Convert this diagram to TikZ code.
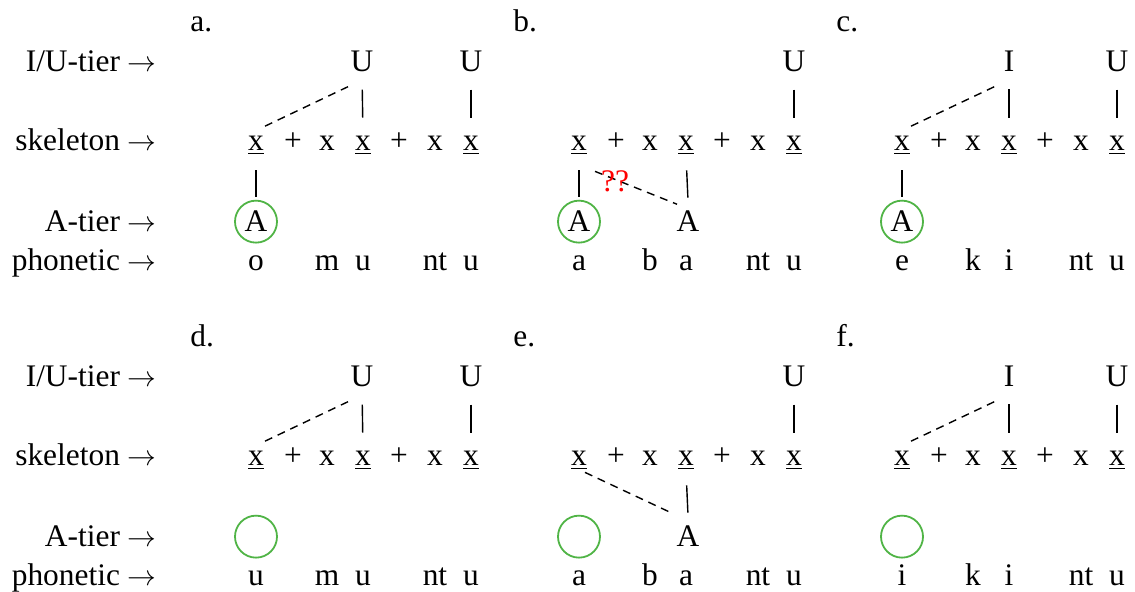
\documentclass[tikz,border=0pt]{standalone}
\usepackage{fontspec}
\setmainfont{Liberation Serif}
\definecolor{ringgreen}{RGB}{80,180,70}
\tikzset{
  seg/.style={inner sep=0pt,anchor=base},
  tier/.style={inner sep=0pt,anchor=base east},
  tag/.style={inner sep=0pt,anchor=base west},
  atom/.style={circle,inner sep=0pt,minimum size=21pt,anchor=base},
  ring/.style={atom,draw=ringgreen,line width=0.9pt},
  link/.style={line width=0.7pt,shorten <=8.5pt,shorten >=9.3pt},
  drop/.style={line width=0.7pt,shorten <=7.5pt,shorten >=1.3pt},
  spread/.style={line width=0.7pt,dash pattern=on 4pt off 3pt},
  qq/.style={inner sep=0pt,text=red}
}
% skeleton row of one panel
\newcommand\skel[1]{%
  \node[seg] (#1x1) at (256,151) {\underline{x}};
  \node[seg] (#1p1) at (293,151) {+};
  \node[seg] (#1x2) at (327,151) {x};
  \node[seg] (#1x4) at (363,151) {\underline{x}};
  \node[seg] (#1p2) at (399,151) {+};
  \node[seg] (#1x5) at (435,151) {x};
  \node[seg] (#1x7) at (471,151) {\underline{x}};
}
% phonetic row of one panel
\newcommand\phon[6]{%
  \node[seg] (#1s1) at (256,271) {#2};
  \node[seg] (#1s2) at (327,271) {#3};
  \node[seg] (#1s3) at (363,271) {#4};
  \node[seg] (#1s4) at (435,271) {#5};
  \node[seg] (#1s5) at (471,271) {#6};
}

\begin{document}
\begin{tikzpicture}[x=0.5pt,y=-0.5pt,font=\fontsize{15.7}{19}\selectfont]
  \useasboundingbox (0,0) rectangle (1135,592);

  % row labels
  \foreach \dy/\r in {0/t,315/b} {
    \node[tier] (iu\r) at (157,72+\dy) {I/U-tier $\rightarrow$};
    \node[tier] (sk\r) at (157,151+\dy) {skeleton $\rightarrow$};
    \node[tier] (at\r) at (157,232+\dy) {A-tier $\rightarrow$};
    \node[tier] (ph\r) at (157,271+\dy) {phonetic $\rightarrow$};
  }

  % a.
  \node[tag] (la) at (190,32) {a.};
  \node[seg] (aU1) at (362,72) {U};
  \node[seg] (aU2) at (471,72) {U};
  \skel{a}
  \node[ring] (aA1) at (256,232) {A};
  \phon{a}{o}{m}{u}{nt}{u}
  \draw[link] (aU1.south) -- (ax4.north);
  \draw[link] (aU2.south) -- (ax7.north);
  \draw[drop] (ax1.south) -- (aA1.north);
  \draw[spread] ([shift={(9,-10)}]ax1.north) -- ([shift={(-14,14)}]aU1.south);

  % b.
  \begin{scope}[shift={(323,0)}]
    \node[tag] (lb) at (190,32) {b.};
    \node[seg] (bU2) at (471,72) {U};
    \skel{b}
    \node[ring] (bA1) at (256,232) {A};
    \node[atom] (bA2) at (365,232) {A};
    \phon{b}{a}{b}{a}{nt}{u}
    \draw[link] (bU2.south) -- (bx7.north);
    \draw[drop] (bx1.south) -- (bA1.north);
    \draw[drop] (bx4.south) -- (bA2.north);
    \draw[spread] ([shift={(16,16)}]bx1.south) -- ([shift={(-11,4)}]bA2.north);
    \node[qq] (bq) at (292,181) {??};
  \end{scope}

  % c.
  \begin{scope}[shift={(646,0)}]
    \node[tag] (lc) at (190,32) {c.};
    \node[seg] (cI1) at (363,72) {I};
    \node[seg] (cU2) at (471,72) {U};
    \skel{c}
    \node[ring] (cA1) at (256,232) {A};
    \phon{c}{e}{k}{i}{nt}{u}
    \draw[link] (cI1.south) -- (cx4.north);
    \draw[link] (cU2.south) -- (cx7.north);
    \draw[drop] (cx1.south) -- (cA1.north);
    \draw[spread] ([shift={(9,-10)}]cx1.north) -- ([shift={(-14,14)}]cI1.south);
  \end{scope}

  % d.
  \begin{scope}[shift={(0,315)}]
    \node[tag] (ld) at (190,32) {d.};
    \node[seg] (dU1) at (362,72) {U};
    \node[seg] (dU2) at (471,72) {U};
    \skel{d}
    \node[ring] (dA1) at (256,232) {\phantom{A}};
    \phon{d}{u}{m}{u}{nt}{u}
    \draw[link] (dU1.south) -- (dx4.north);
    \draw[link] (dU2.south) -- (dx7.north);
    \draw[spread] ([shift={(9,-10)}]dx1.north) -- ([shift={(-14,14)}]dU1.south);
  \end{scope}

  % e.
  \begin{scope}[shift={(323,315)}]
    \node[tag] (le) at (190,32) {e.};
    \node[seg] (eU2) at (471,72) {U};
    \skel{e}
    \node[ring] (eA1) at (256,232) {\phantom{A}};
    \node[atom] (eA2) at (365,232) {A};
    \phon{e}{a}{b}{a}{nt}{u}
    \draw[link] (eU2.south) -- (ex7.north);
    \draw[drop] (ex4.south) -- (eA2.north);
    \draw[spread] ([shift={(6,2)}]ex1.south) -- ([shift={(-18,-3)}]eA2.north);
  \end{scope}

  % f.
  \begin{scope}[shift={(646,315)}]
    \node[tag] (lf) at (190,32) {f.};
    \node[seg] (fI1) at (363,72) {I};
    \node[seg] (fU2) at (471,72) {U};
    \skel{f}
    \node[ring] (fA1) at (256,232) {\phantom{A}};
    \phon{f}{i}{k}{i}{nt}{u}
    \draw[link] (fI1.south) -- (fx4.north);
    \draw[link] (fU2.south) -- (fx7.north);
    \draw[spread] ([shift={(9,-10)}]fx1.north) -- ([shift={(-14,14)}]fI1.south);
  \end{scope}
\end{tikzpicture}
\end{document}
